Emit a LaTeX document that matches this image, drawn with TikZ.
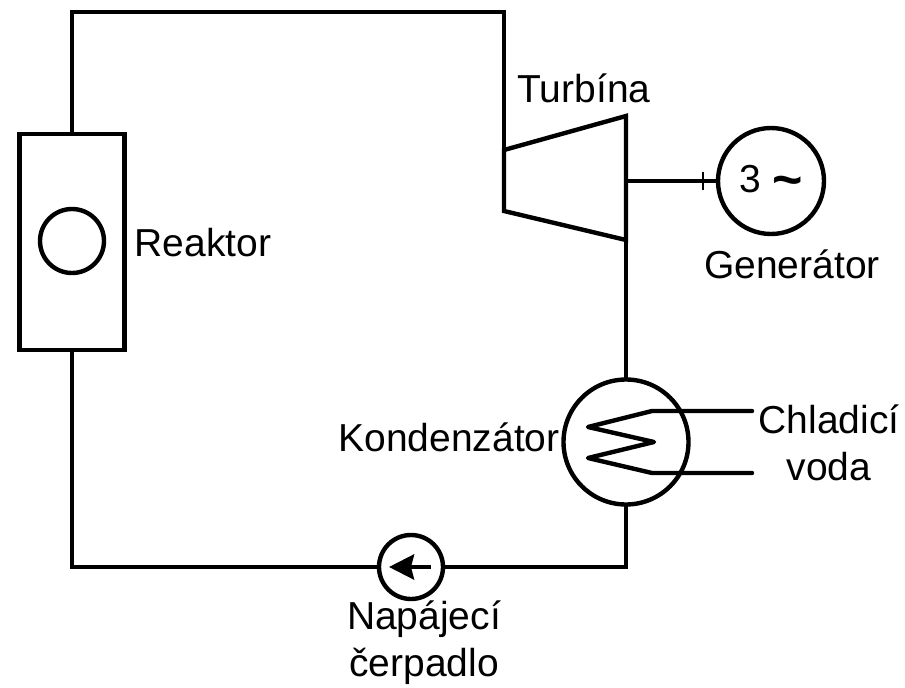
\documentclass[tikz,border=0pt]{standalone}
\usepackage{fontspec}
\setmainfont{Liberation Sans}
\usetikzlibrary{arrows.meta}

\begin{document}
\begin{tikzpicture}[x=1pt,y=-1pt,line width=4.4pt,
        label/.style={inner sep=0pt,align=center,font=\fontsize{39}{47}\selectfont},
        vessel/.style={draw,circle,inner sep=0pt,outer sep=0pt},
        pipe/.style={line join=miter,line cap=butt},
        coil/.style={line join=round,line cap=round},
        rotor arrow/.style={{Stealth[length=25pt,width=25pt,inset=3pt]}-}]

        \useasboundingbox (0,0) rectangle (905,688);

        % components
        \node[draw,outer sep=0pt,minimum width=105pt,minimum height=216pt] (reaktor) at (72,242) {};
        \node[vessel,minimum size=64pt] (palivo) at (72,241) {};
        \node[vessel,minimum size=106pt,font=\fontsize{39}{47}\selectfont] (generator) at (771,181) {3 \raisebox{-5pt}{\fontsize{52}{47}\bfseries\selectfont\textasciitilde}};
        \node[vessel,minimum size=125pt] (kondenzator) at (626,442) {};
        \node[vessel,minimum size=64pt] (cerpadlo) at (411,567) {};

        % turbine outline
        \coordinate (T1) at (504,150);
        \coordinate (T2) at (626,116);
        \coordinate (T3) at (626,240);
        \coordinate (T4) at (504,211);
        \coordinate (H) at (72,12);
        \coordinate (S) at (626,181);
        \draw[line join=miter] (T1) -- (T2) -- (T3) -- (T4) -- cycle;

        % pipes
        \draw[pipe] (reaktor.north) -- (H) -| (T1);
        \draw[pipe] (T3) -- (kondenzator.north);
        \draw[pipe] (kondenzator.south) |- (cerpadlo.east);
        \draw[pipe] (cerpadlo.west) -| (reaktor.south);
        \draw[pipe] (S) -- (generator.west);

        % shaft coupling
        \coordinate (K) at (703,181);
        \draw[line width=2pt] ([yshift=-9pt]K) -- ([yshift=9pt]K);

        % cooling coil
        \coordinate (C1) at (752,411);
        \coordinate (C2) at (752,473);
        \draw[coil] (C1) -- (652,411) -- (588,427) -- (654,442) -- (588,458) -- (652,473) -- (C2);

        % pump arrow
        \coordinate (P1) at (431,567);
        \coordinate (P2) at (389,567);
        \draw[rotor arrow] (P2) -- (P1);

        % labels
        \node[label] (turbina) at (584,88) {Turbína};
        \node[label] (reaktortext) at (203,243) {Reaktor};
        \node[label] (generatortext) at (792,264) {Generátor};
        \node[label] (kondenzatortext) at (449,437) {Kondenzátor};
        \node[label] (vodatext) at (829,443) {Chladicí\\voda};
        \node[label] (cerpadlotext) at (424,643) {Napájecí\\čerpadlo};
\end{tikzpicture}
\end{document}
